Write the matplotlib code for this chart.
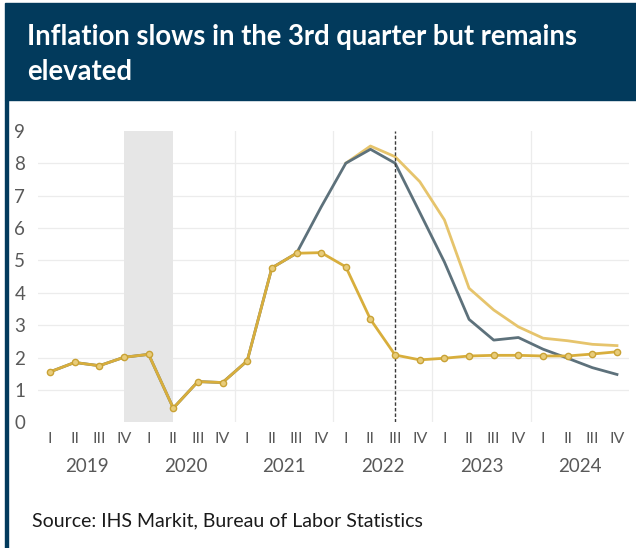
import matplotlib.pyplot as plt
from matplotlib.patches import Rectangle
import numpy as np

plt.rcParams['font.family'] = ['Lato', 'DejaVu Sans']

# quarterly CPI inflation, y/y %
years = ['2019', '2020', '2021', '2022', '2023', '2024']
quarters = ['I', 'II', 'III', 'IV']

# headline CPI (grey line)
cpi = [1.56, 1.85, 1.75, 2.01, 2.10, 0.44, 1.26, 1.23,
       1.90, 4.77, 5.22, 6.65, 8.00, 8.43, 8.00, 6.48,
       4.95, 3.18, 2.54, 2.62, 2.26, 1.98, 1.69, 1.48]
# earlier forecast path from 2022 I on (light gold)
cpi_prev = [8.00, 8.53, 8.20, 7.43, 6.25, 4.14, 3.47, 2.95, 2.60, 2.52, 2.41, 2.37]
prev_start = 12
# core PCE (gold with markers)
core = [1.56, 1.85, 1.75, 2.01, 2.10, 0.44, 1.26, 1.23,
        1.90, 4.77, 5.22, 5.24, 4.80, 3.18, 2.08, 1.93,
        1.98, 2.05, 2.07, 2.07, 2.05, 2.05, 2.11, 2.18]

recession = (3, 5)
forecast_from = 14

navy = '#023a5c'
grey_line = '#5d717b'
gold = '#d8ae3c'
gold_light = '#e6c46c'
tick_col = '#595959'

fig = plt.figure(figsize=(6.36, 5.48), dpi=100)
W, H = 636, 548

# header band and left rule
fig.patches.append(Rectangle((5 / W, (H - 100) / H), 1 - 5 / W, 97 / H,
                             transform=fig.transFigure, color=navy, zorder=0))
fig.patches.append(Rectangle((5 / W, 0), 3 / W, (H - 100) / H,
                             transform=fig.transFigure, color=navy, zorder=0))
fig.text(27 / W, 1 - 37 / H, 'Inflation slows in the 3rd quarter but remains',
         color='white', fontsize=19.8, fontweight='bold', va='center', ha='left')
fig.text(27 / W, 1 - 72 / H, 'elevated',
         color='white', fontsize=19.8, fontweight='bold', va='center', ha='left')

ax = fig.add_axes([37.7 / W, (H - 422.4) / H, 591.6 / W, 291.6 / H])
n = len(cpi)
x = np.arange(n)
ax.set_xlim(-0.5, n - 0.5)
ax.set_ylim(0, 9)

for s in ax.spines.values():
    s.set_visible(False)

for v in range(1, 9):
    ax.axhline(v, color='#ececec', lw=0.9, zorder=0)
for b in range(7, n - 1, 4):
    ax.axvline(b + 0.5, color='#ececec', lw=0.9, zorder=0)
ax.axvspan(recession[0], recession[1], color='#e6e6e6', lw=0, zorder=0.5)
ax.axvline(forecast_from, ymin=0, ymax=1, color='#3a3a3a', lw=1,
           ls=(0, (2.5, 1.5)), zorder=4)

ax.plot(np.arange(prev_start, n), cpi_prev, color=gold_light, lw=2, zorder=2)
ax.plot(x, cpi, color=grey_line, lw=2, zorder=3)
ax.plot(x, core, color=gold, lw=2, marker='o', ms=4.5,
        mfc='#e8cc7a', mec='#c9a235', mew=1, zorder=5)

ax.set_yticks(range(0, 10))
ax.tick_params(axis='y', length=0, labelsize=13.5, labelcolor=tick_col, pad=9)
ax.set_xticks(x)
ax.set_xticklabels(quarters * len(years))
ax.tick_params(axis='x', length=0, labelsize=11.5, labelcolor=tick_col, pad=7)
for i, yr in enumerate(years):
    ax.text(4 * i + 1.5, -0.15, yr, transform=ax.get_xaxis_transform(),
            ha='center', va='center', fontsize=13.5, color=tick_col)

fig.text(32 / W, 1 - 521 / H, 'Source: IHS Markit, Bureau of Labor Statistics',
         fontsize=14, color='#1a1a1a', ha='left', va='center')

fig.savefig('out.png', dpi=100)
